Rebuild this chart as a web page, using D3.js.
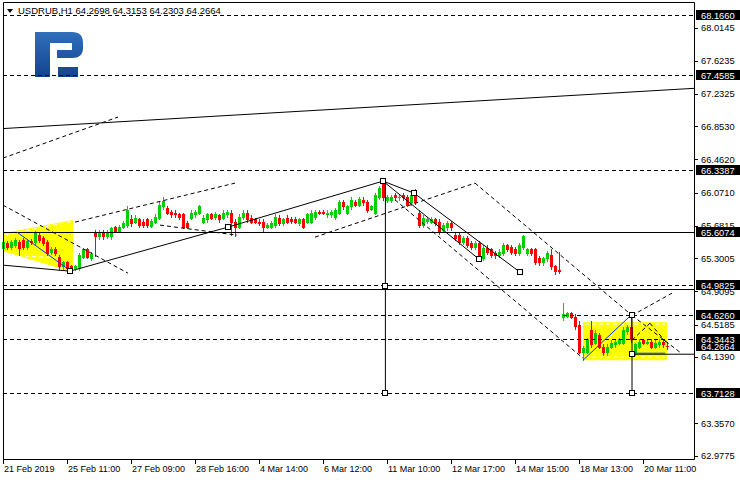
<!DOCTYPE html>
<html><head><meta charset="utf-8">
<script src="https://cdn.jsdelivr.net/npm/d3@7"></script>
<style>body{margin:0;background:#fff}svg{display:block}text{font-family:"Liberation Sans",Arial,sans-serif}</style>
</head><body><svg id="c" width="740" height="480"></svg>
<script>
// ---- data ----
const title = "USDRUB,H1  64.2698 64.3153 64.2303 64.2664";
const opens = [65.425,65.484,65.437,65.460,65.496,65.519,65.437,65.507,65.496,65.578,
65.543,65.496,65.378,65.413,65.319,65.202,65.249,65.202,65.190,65.190,
65.319,65.402,65.307,65.613,65.555,65.613,65.566,65.555,65.661,65.625,
65.672,65.696,65.766,65.731,65.755,65.731,65.755,65.684,65.731,65.778,
65.908,65.896,65.849,65.837,65.814,65.814,65.719,65.778,65.814,65.837,
65.731,65.755,65.814,65.790,65.802,65.778,65.814,65.837,65.731,65.672,
65.790,65.837,65.778,65.755,65.731,65.731,65.672,65.672,65.696,65.778,
65.719,65.778,65.766,65.766,65.719,65.755,65.731,65.731,65.790,65.849,
65.849,65.814,65.814,65.790,65.837,65.966,65.837,65.908,65.966,65.931,
65.990,65.966,65.884,65.837,66.025,66.190,65.990,65.990,66.049,66.014,
66.049,66.025,65.955,66.072,65.837,65.696,65.743,65.731,65.755,65.731,
65.637,65.661,65.719,65.578,65.578,65.496,65.543,65.484,65.437,65.484,
65.307,65.425,65.402,65.366,65.343,65.366,65.449,65.437,65.413,65.366,
65.437,65.366,65.402,65.402,65.307,65.249,65.296,65.343,65.202,65.166,
64.613,64.625,64.649,64.613,64.519,64.201,64.201,64.460,64.307,64.401,
64.260,64.190,64.260,64.284,64.307,64.307,64.437,64.484,64.190,64.260,
64.331,64.307,64.319,64.260,64.284,64.319,64.2698];
const highs = [65.519,65.507,65.519,65.543,65.519,65.543,65.531,65.531,65.625,65.602,
65.566,65.519,65.437,65.437,65.343,65.272,65.272,65.225,65.225,65.366,
65.425,65.425,65.378,65.637,65.637,65.637,65.637,65.672,65.684,65.696,
65.743,65.908,65.802,65.802,65.778,65.755,65.778,65.766,65.814,65.955,
66.014,65.919,65.872,65.861,65.837,65.837,65.743,65.861,65.872,65.931,
65.802,65.837,65.837,65.849,65.825,65.861,65.872,65.861,65.755,65.814,
65.861,65.861,65.802,65.778,65.755,65.755,65.719,65.743,65.814,65.802,
65.778,65.802,65.790,65.790,65.778,65.778,65.837,65.861,65.872,65.872,
65.872,65.861,65.872,65.896,65.990,65.990,65.931,66.014,65.990,66.025,
66.014,65.990,65.931,66.072,66.155,66.225,66.049,66.049,66.072,66.049,
66.072,66.049,66.072,66.108,65.861,65.802,65.790,65.790,65.778,65.755,
65.719,65.743,65.743,65.602,65.602,65.566,65.566,65.507,65.507,65.507,
65.449,65.449,65.425,65.390,65.402,65.484,65.472,65.460,65.437,65.484,
65.578,65.425,65.425,65.425,65.331,65.319,65.390,65.402,65.225,65.378,
64.778,64.672,64.672,64.637,64.555,64.272,64.366,64.555,64.449,64.425,
64.284,64.284,64.331,64.343,64.366,64.484,64.508,64.637,64.307,64.343,
64.354,64.343,64.343,64.331,64.343,64.343,64.3153];
const lows = [65.402,65.413,65.413,65.437,65.343,65.413,65.413,65.472,65.472,65.496,
65.460,65.343,65.354,65.343,65.166,65.178,65.166,65.143,65.166,65.166,
65.296,65.296,65.284,65.331,65.531,65.531,65.543,65.531,65.602,65.602,
65.649,65.672,65.684,65.708,65.672,65.672,65.672,65.661,65.708,65.755,
65.884,65.814,65.790,65.790,65.766,65.649,65.649,65.755,65.790,65.814,
65.708,65.731,65.755,65.766,65.731,65.755,65.790,65.578,65.566,65.649,
65.766,65.731,65.708,65.708,65.696,65.613,65.649,65.649,65.672,65.696,
65.696,65.708,65.719,65.708,65.696,65.649,65.708,65.708,65.766,65.814,
65.814,65.790,65.790,65.766,65.814,65.884,65.814,65.884,65.908,65.908,
65.931,65.849,65.861,65.814,66.002,65.990,65.966,65.966,65.990,65.990,
65.990,65.908,65.931,65.943,65.672,65.672,65.719,65.708,65.696,65.590,
65.613,65.637,65.637,65.519,65.472,65.472,65.437,65.413,65.413,65.296,
65.284,65.354,65.319,65.296,65.319,65.343,65.390,65.354,65.343,65.343,
65.413,65.343,65.343,65.237,65.225,65.225,65.272,65.178,65.119,65.131,
64.578,64.602,64.590,64.472,64.178,64.107,64.178,64.260,64.284,64.237,
64.166,64.166,64.237,64.260,64.284,64.284,64.413,64.319,64.166,64.237,
64.284,64.284,64.237,64.237,64.260,64.260,64.2303];
const closes = [65.496,65.437,65.496,65.519,65.425,65.437,65.507,65.496,65.602,65.519,
65.484,65.366,65.413,65.366,65.202,65.249,65.190,65.166,65.202,65.343,
65.402,65.319,65.354,65.555,65.613,65.555,65.613,65.649,65.625,65.672,
65.719,65.872,65.708,65.778,65.696,65.696,65.696,65.743,65.790,65.931,
65.978,65.837,65.814,65.814,65.790,65.672,65.672,65.837,65.849,65.908,
65.778,65.814,65.778,65.825,65.755,65.837,65.849,65.731,65.672,65.790,
65.837,65.755,65.731,65.731,65.719,65.672,65.696,65.719,65.790,65.719,
65.755,65.731,65.743,65.731,65.755,65.672,65.814,65.837,65.849,65.837,
65.837,65.837,65.849,65.872,65.966,65.908,65.908,65.990,65.931,66.002,
65.955,65.872,65.908,66.049,66.131,66.014,66.025,66.025,66.014,66.025,
66.014,65.931,66.049,65.966,65.696,65.778,65.766,65.766,65.719,65.613,
65.696,65.719,65.661,65.543,65.496,65.543,65.460,65.437,65.484,65.307,
65.425,65.378,65.343,65.343,65.378,65.460,65.413,65.378,65.366,65.460,
65.555,65.402,65.366,65.260,65.249,65.296,65.366,65.202,65.154,65.154,
64.637,64.649,64.613,64.496,64.201,64.248,64.343,64.284,64.425,64.260,
64.190,64.260,64.307,64.319,64.343,64.460,64.484,64.343,64.284,64.319,
64.307,64.319,64.260,64.307,64.319,64.284,64.2664];

const xTickIndex = [0,16,32,48,64,80,96,112,128,144,160];
const xTickLabels = ["21 Feb 2019","25 Feb 11:00","27 Feb 09:00","28 Feb 16:00","4 Mar 14:00","6 Mar 12:00","11 Mar 10:00","12 Mar 17:00","14 Mar 15:00","18 Mar 13:00","20 Mar 11:00"];
const yTicks = [68.0145,67.6235,67.2325,66.8530,66.4620,66.0710,65.6815,65.3005,64.9095,64.5185,64.1390,63.3570,62.9775];
const dashedLevels = [68.1660,67.4585,66.3387,64.9825,64.6260,64.3443,63.7128];
const solidLevels = [65.6074,64.9316];
const priceLabels = [68.1660,67.4585,66.3387,65.6074,64.9825,64.6260,64.2664,64.3443,63.7128];

// drawings: [barIndex1, price1, barIndex2, price2]
const solidLines = [[0,66.8251,172.75,67.2985],[0,65.2177,16.75,65.1470],[16.75,65.1470,56.25,65.6652],
 [56.25,65.6652,95,66.2068],[95,66.2068,102.75,66.0656],[95,66.2068,119,65.2883],[102.75,66.0656,129.25,65.1352],
 [95.6,66.2068,95.6,63.7128],[157.25,64.6260,157.25,63.7128],[157.25,64.1696,172.75,64.1696]];
const dashedLines = [[0,66.4777,28.75,66.9605],[0,65.9242,31.25,65.1235],[18,65.7241,58,66.1833],
 [39.25,65.6887,58.5,65.5710],
 [78,65.5474,118,66.1833],[118,66.1833,157.25,64.6260],[98,65.9863,145,64.1225],[157.25,64.6260,167.25,64.8879],
 [157.25,64.6260,169.25,64.1930],[157.25,64.3345,161.75,64.5346],[161.75,64.5346,166,64.2990]];
const blueLines = [[3.5,65.6062,17,65.1470],[145,64.0989,157,64.6289],[158,64.1813,165.5,64.1813]];
const yellowLeft = [[0,65.5944],[17.5,65.7476],[17.5,65.1352],[0,65.3825]];
const yellowRight = [145,64.5464,166,64.0989];
const squares = [[16.75,65.147],[56.25,65.6652],[95,66.2068],[102.75,66.0656],[119,65.2883],[129.25,65.1352],
 [95.6,64.9703],[95.6,63.7128],[157.25,64.626],[157.25,64.1696],[157.25,63.7128]];

// ---- drawing ----
const svg = d3.select("#c");
const L = 3, R = 694, T = 2, B = 459;
const x = d3.scaleLinear().domain([0,172.75]).range([L,R]);
const y = d3.scaleLinear().domain([62.9775,68.0145]).range([455.5,27.5]);
const GREEN = "#00d000", RED = "#ff0000";

// logo
const defs = svg.append("defs");
const lg = defs.append("linearGradient").attr("id","lg").attr("x1",0).attr("y1",0).attr("x2",0).attr("y2",1);
lg.append("stop").attr("offset","0").attr("stop-color","#2f6fba");
lg.append("stop").attr("offset","1").attr("stop-color","#11448f");
svg.append("path").attr("fill","url(#lg)")
  .attr("d","M35,32 H72 Q83,32 83,43 V48 Q83,58 72,58 H57 V50 H72 V43 H50 V77 H35 Z M58,67 H78 V77 H58 Z");

const plot = svg.append("g");
// yellow areas
plot.append("polygon").attr("fill","#ffff00")
  .attr("points", yellowLeft.map(d=>[x(d[0]),y(d[1])].join(",")).join(" "));
plot.append("rect").attr("fill","#ffff00")
  .attr("x",x(yellowRight[0])).attr("y",y(yellowRight[1]))
  .attr("width",x(yellowRight[2])-x(yellowRight[0])).attr("height",y(yellowRight[3])-y(yellowRight[1]));
// white dashes inside yellow
const wd = [[0.5,65.575,17,65.73],[2,65.33,15,65.305],[145.5,64.523,165.5,64.523],[145.5,64.134,165.5,64.134],[158,64.25,166,64.25]];
plot.selectAll(".wd").data(wd).enter().append("line")
  .attr("x1",d=>x(d[0])).attr("y1",d=>y(d[1])).attr("x2",d=>x(d[2])).attr("y2",d=>y(d[3]))
  .attr("stroke","#fff").attr("stroke-dasharray","4,3");

// candles
const idx = d3.range(opens.length);
const cg = plot.append("g");
idx.forEach(i=>{
  const col = closes[i] >= opens[i] ? GREEN : RED;
  const cx = Math.round(x(i));
  cg.append("line").attr("x1",cx+0.5).attr("x2",cx+0.5)
    .attr("y1",Math.round(y(highs[i]))).attr("y2",Math.round(y(lows[i]))+1)
    .attr("stroke",col).attr("stroke-width",1);
  const top = Math.round(y(Math.max(opens[i],closes[i])));
  const bot = Math.round(y(Math.min(opens[i],closes[i])));
  cg.append("rect").attr("x",cx-1).attr("y",top).attr("width",3).attr("height",Math.max(1,bot-top+1)).attr("fill",col);
});

// horizontal levels
plot.selectAll(".dl").data(dashedLevels).enter().append("line")
  .attr("x1",L).attr("x2",R).attr("y1",d=>Math.round(y(d))+0.5).attr("y2",d=>Math.round(y(d))+0.5)
  .attr("stroke","#000").attr("stroke-dasharray","4,3");
plot.selectAll(".sl").data(solidLevels).enter().append("line")
  .attr("x1",L).attr("x2",R).attr("y1",d=>Math.round(y(d))+0.5).attr("y2",d=>Math.round(y(d))+0.5)
  .attr("stroke","#000");

function seg(sel, data, color, dash){
  sel.selectAll(null).data(data).enter().append("line")
   .attr("x1",d=>x(d[0])).attr("y1",d=>y(d[1])).attr("x2",d=>x(d[2])).attr("y2",d=>y(d[3]))
   .attr("stroke",color).attr("stroke-width",1).attr("stroke-dasharray",dash||null);
}
seg(plot, dashedLines, "#000", "4,3");
seg(plot, solidLines, "#000");
seg(plot, blueLines, "#1030ff");
plot.selectAll(".sq").data(squares).enter().append("rect")
  .attr("x",d=>Math.round(x(d[0]))-2.5).attr("y",d=>Math.round(y(d[1]))-2.5).attr("width",5).attr("height",5)
  .attr("fill","#fff").attr("stroke","#000");

// frame
svg.append("path").attr("d",`M${L+0.5},${T+0.5} H${R+0.5} V${B+0.5} H${L+0.5} Z`).attr("fill","none").attr("stroke","#000");

// header
svg.append("path").attr("d","M7,9 H13 L10,13 Z").attr("fill","#000");
svg.append("text").attr("x",18).attr("y",14).attr("font-size","9.5px").attr("fill","#000").text(title);

// y axis
const ya = svg.append("g");
ya.selectAll(".yt").data(yTicks).enter().append("line")
  .attr("x1",R).attr("x2",R+4).attr("y1",d=>Math.round(y(d))+0.5).attr("y2",d=>Math.round(y(d))+0.5).attr("stroke","#000");
ya.selectAll(".ytl").data(yTicks).enter().append("text")
  .attr("x",R+7).attr("y",d=>y(d)+3.5).attr("font-size","9.3px").attr("fill","#000").text(d=>d.toFixed(4));
// price labels
priceLabels.forEach(p=>{
  const yy = Math.round(y(p));
  ya.append("rect").attr("x",696).attr("y",yy-5).attr("width",44).attr("height",10).attr("fill","#000");
  ya.append("text").attr("x",R+7).attr("y",yy+3.5).attr("font-size","9.3px").attr("fill","#fff").text(p.toFixed(4));
});

// x axis
const xa = svg.append("g");
xa.selectAll(".xt").data(xTickIndex).enter().append("line")
  .attr("x1",d=>Math.round(x(d))+0.5).attr("x2",d=>Math.round(x(d))+0.5).attr("y1",B).attr("y2",B+5).attr("stroke","#000");
xa.selectAll(".xtl").data(xTickIndex).enter().append("text")
  .attr("x",d=>Math.round(x(d))+1).attr("y",472).attr("font-size","9px").attr("fill","#000")
  .text((d,i)=>xTickLabels[i]);
</script></body></html>
